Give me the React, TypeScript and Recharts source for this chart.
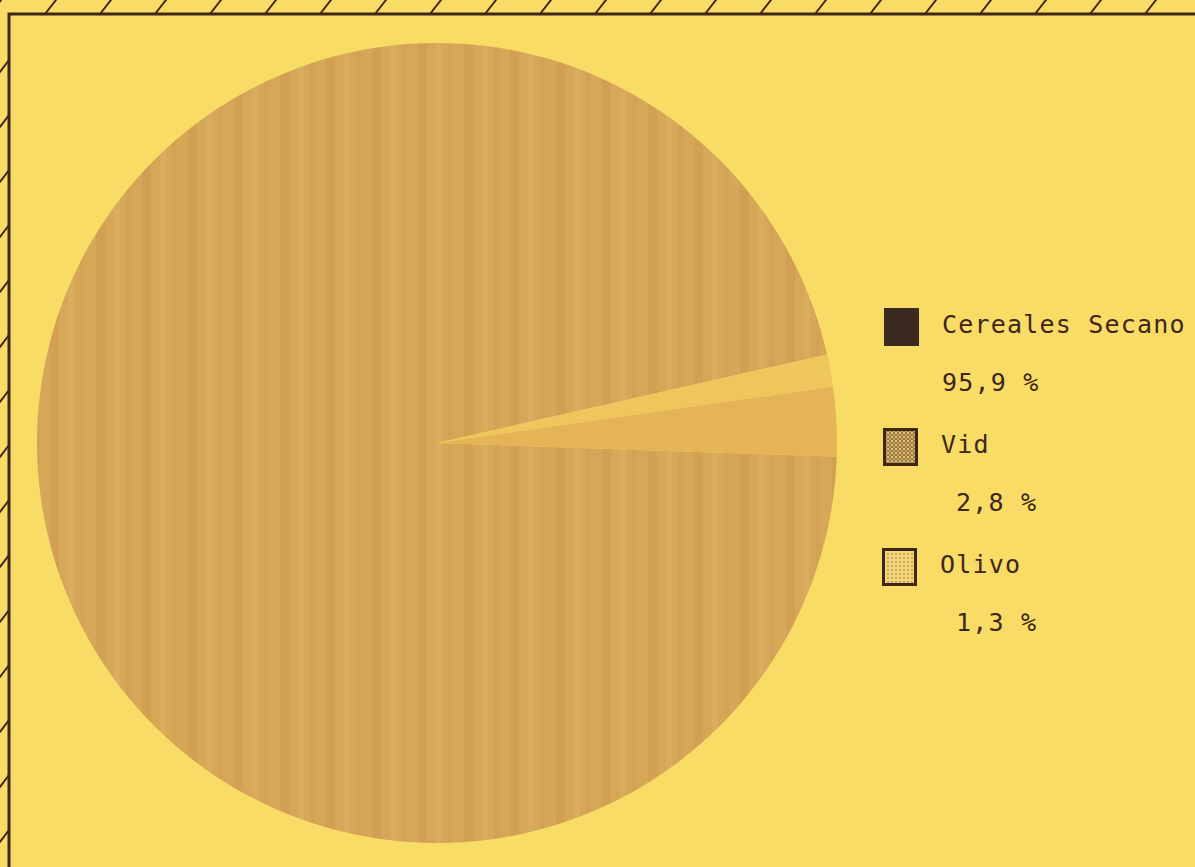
import { PieChart, Pie, Cell, Legend } from "recharts"

const categories = ["Cereales Secano", "Vid", "Olivo"]
const shares = [95.9, 2.8, 1.3]

const sliceFills = ["url(#streaks)", "#E4B456", "#EFC55E"]
const PAPER = "#F8DC66"
const INK = "#3E2619"

const pieData = categories.map((name, i) => ({ name, value: shares[i] }))

const fmt = (v: number) => v.toFixed(1).replace(".", ",") + " %"

/* ── legend swatches ── */

function Swatch({ kind }: { kind: number }) {
  return (
    <svg width={35} height={38} style={{ display: "block" }}>
      <defs>
        <pattern id="sw-vid" width="4" height="4" patternUnits="userSpaceOnUse">
          <rect width="4" height="4" fill="#9C7A44" />
          <rect width="2" height="2" fill="#E2C27A" />
          <rect x="2" y="2" width="2" height="2" fill="#C9A05A" />
        </pattern>
        <pattern id="sw-olivo" width="4" height="4" patternUnits="userSpaceOnUse">
          <rect width="4" height="4" fill="#F3D67A" />
          <circle cx="2" cy="2" r="0.9" fill="#B68D4E" />
        </pattern>
      </defs>
      {kind === 0 && <rect x={0} y={0} width={35} height={38} fill="#3B2A22" />}
      {kind === 1 && (
        <rect x={1.5} y={1.5} width={32} height={35} fill="url(#sw-vid)" stroke={INK} strokeWidth={3} />
      )}
      {kind === 2 && (
        <rect x={1.5} y={1.5} width={32} height={35} fill="url(#sw-olivo)" stroke={INK} strokeWidth={3} />
      )}
    </svg>
  )
}

function LegendBlock() {
  const text = {
    fontFamily: "'DejaVu Sans Mono', monospace",
    fontSize: 25,
    letterSpacing: 1.2,
    color: INK,
    lineHeight: "30px",
    whiteSpace: "pre" as const,
  }
  return (
    <div style={{ position: "relative", width: 320, height: 340 }}>
      {categories.map((c, i) => (
        <div key={c}>
          <div style={{ position: "absolute", left: 2 - i, top: 10 + i * 120 }}>
            <Swatch kind={i} />
          </div>
          <div style={{ ...text, position: "absolute", left: 60 - i, top: 12 + i * 120 }}>{c}</div>
          <div style={{ ...text, position: "absolute", left: i === 0 ? 60 : 74, top: 70 + i * 120 }}>
            {fmt(shares[i])}
          </div>
        </div>
      ))}
    </div>
  )
}

/* ── page frame with hatched edge ── */

function Frame() {
  const slashes = []
  for (let x = -10; x < 1220; x += 55) {
    slashes.push(<line key={"t" + x} x1={x} y1={14} x2={x + 11} y2={0} />)
  }
  for (let y = 60; y < 880; y += 55) {
    slashes.push(<line key={"l" + y} x1={0} y1={y + 12} x2={9} y2={y} />)
  }
  return (
    <svg
      width={1195}
      height={867}
      style={{ position: "absolute", left: 0, top: 0, pointerEvents: "none" }}
    >
      <g stroke={INK} strokeWidth={2} strokeLinecap="round">{slashes}</g>
      <path d="M 1200,14 L 9,14 L 9,870" fill="none" stroke={INK} strokeWidth={3} />
    </svg>
  )
}

export default function App() {
  return (
    <div
      style={{
        position: "absolute",
        left: 0,
        top: 0,
        width: 1195,
        height: 867,
        background: PAPER,
        overflow: "hidden",
      }}
    >
      <PieChart width={1195} height={867} margin={{ top: 0, right: 0, bottom: 0, left: 0 }}>
        <defs>
          {/* soft vertical streaks like the plotter fill */}
          <pattern id="streaks" width="46" height="867" patternUnits="userSpaceOnUse">
            <rect width="46" height="867" fill="#D6A757" />
            <rect x="4" width="9" height="867" fill="#D29F53" />
            <rect x="22" width="6" height="867" fill="#DAAC5E" />
            <rect x="34" width="5" height="867" fill="#D3A255" />
          </pattern>
        </defs>
        <Pie
          data={pieData}
          dataKey="value"
          nameKey="name"
          cx={437}
          cy={443}
          outerRadius={400}
          startAngle={12.8}
          endAngle={372.8}
          stroke="none"
          isAnimationActive={false}
        >
          {pieData.map((d, i) => (
            <Cell key={d.name} fill={sliceFills[i]} />
          ))}
        </Pie>
        <Legend
          layout="vertical"
          align="right"
          verticalAlign="top"
          content={() => <LegendBlock />}
          wrapperStyle={{ position: "absolute", left: 882, top: 298, width: 320 }}
        />
      </PieChart>
      <Frame />
    </div>
  )
}
